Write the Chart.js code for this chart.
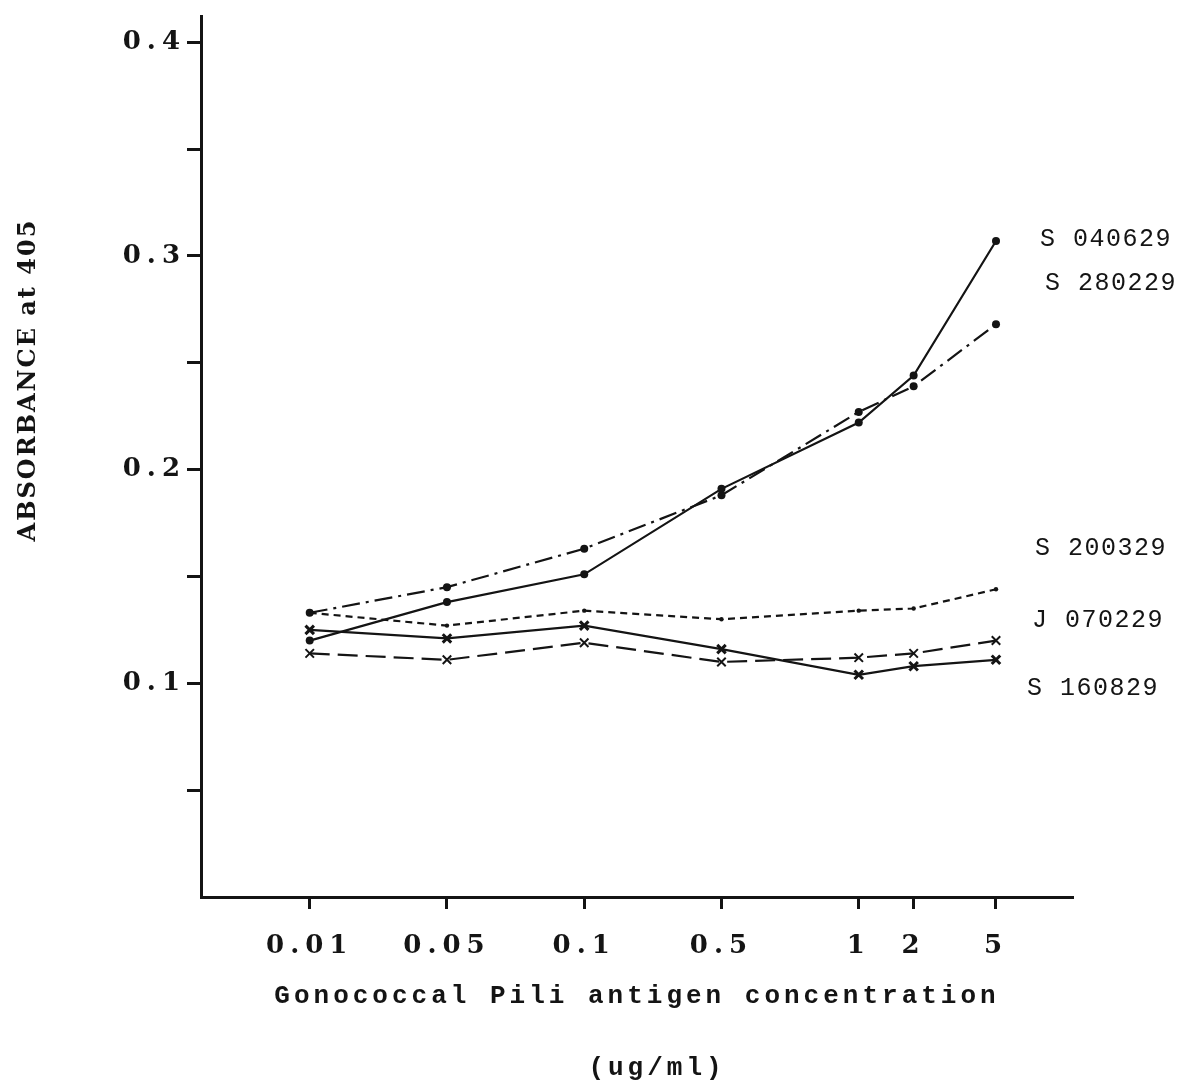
<!DOCTYPE html>
<html>
<head>
<meta charset="utf-8">
<script src="https://cdn.jsdelivr.net/npm/chart.js@4.4.1/dist/chart.umd.min.js"></script>
<style>
  html, body { margin: 0; padding: 0; background: #ffffff; }
  #plot { display: block; }
</style>
</head>
<body>
<canvas id="plot" width="1204" height="1084"></canvas>
<script>
// Antigen concentrations (ug/ml) and where each sits along the drawn x axis
const concentrations = ['0.01', '0.05', '0.1', '0.5', '1', '2', '5'];
const concentrationAxisPos = [0, 1, 2, 3, 4, 4.4, 5];

// Absorbance at 405 nm for each serum
const s040629 = [0.120, 0.138, 0.151, 0.191, 0.222, 0.244, 0.307];
const s280229 = [0.133, 0.145, 0.163, 0.188, 0.227, 0.239, 0.268];
const s200329 = [0.133, 0.127, 0.134, 0.130, 0.134, 0.135, 0.144];
const j070229 = [0.114, 0.111, 0.119, 0.110, 0.112, 0.114, 0.120];
const s160829 = [0.125, 0.121, 0.127, 0.116, 0.104, 0.108, 0.111];

const seriesNames = ['S 040629', 'S 280229', 'S 200329', 'J 070229', 'S 160829'];
const yTickValues = [0.05, 0.1, 0.15, 0.2, 0.25, 0.3, 0.35, 0.4];

const yTitle = 'ABSORBANCE at 405';
const xTitle = 'Gonococcal Pili antigen concentration';
const xUnits = '(ug/ml)';

const INK = '#141414';

// Where the serum names are written at the right (value-axis units for height)
const nameLayout = [
  { x: 1040, y: 0.3078 },
  { x: 1045, y: 0.2872 },
  { x: 1035, y: 0.1630 },
  { x: 1032, y: 0.1294 },
  { x: 1027, y: 0.0976 }
];

function points(values) {
  return values.map((v, i) => ({ x: concentrationAxisPos[i], y: v }));
}

const dotSeries = (name, values, dash, radius) => ({
  label: name,
  data: points(values),
  borderColor: INK,
  borderWidth: 2.2,
  borderDash: dash,
  pointStyle: 'circle',
  pointRadius: radius,
  pointBackgroundColor: INK,
  pointBorderColor: INK,
  pointBorderWidth: 0,
  tension: 0,
  fill: false
});

const crossSeries = (name, values, dash, weight) => ({
  label: name,
  data: points(values),
  borderColor: INK,
  borderWidth: 2.2,
  borderDash: dash,
  pointStyle: 'crossRot',
  pointRadius: 6,
  pointBorderColor: INK,
  pointBorderWidth: weight,
  tension: 0,
  fill: false
});

const spacedText = {
  id: 'spacedText',
  beforeDraw(chart) {
    chart.ctx.letterSpacing = '6px';
  },
  afterDraw(chart) {
    const ctx = chart.ctx;
    const yScale = chart.scales.y;
    ctx.save();
    ctx.fillStyle = INK;
    ctx.textBaseline = 'middle';

    // x axis title and units
    ctx.letterSpacing = '4px';
    ctx.font = 'bold 26px "Liberation Mono"';
    ctx.textAlign = 'center';
    ctx.fillText(xTitle, 637, 996);
    ctx.fillText(xUnits, 657, 1068);

    // y axis title
    ctx.save();
    ctx.letterSpacing = '2px';
    ctx.font = 'bold 24px "DejaVu Serif"';
    ctx.translate(29, 380);
    ctx.rotate(-Math.PI / 2);
    ctx.fillText(yTitle, 0, 0);
    ctx.restore();

    // serum names
    ctx.letterSpacing = '1.5px';
    ctx.font = '25px "Liberation Mono"';
    ctx.textAlign = 'left';
    seriesNames.forEach((name, i) => {
      const p = nameLayout[i];
      ctx.fillText(name, p.x, yScale.getPixelForValue(p.y));
    });
    ctx.restore();
    ctx.letterSpacing = '0px';
  }
};

const tickFont = { family: 'DejaVu Serif', size: 26, weight: 'bold' };

new Chart(document.getElementById('plot'), {
  type: 'line',
  data: {
    datasets: [
      dotSeries(seriesNames[0], s040629, [], 4),
      dotSeries(seriesNames[1], s280229, [18, 6, 3, 6], 4),
      dotSeries(seriesNames[2], s200329, [7, 5], 2.2),
      crossSeries(seriesNames[3], j070229, [20, 8], 2),
      crossSeries(seriesNames[4], s160829, [], 3)
    ]
  },
  options: {
    responsive: false,
    animation: false,
    devicePixelRatio: 1,
    layout: { padding: { left: 0, top: 15, right: 131, bottom: 0 } },
    plugins: {
      legend: { display: false },
      tooltip: { enabled: false },
      title: { display: false }
    },
    scales: {
      x: {
        type: 'linear',
        min: -0.792,
        max: 5.561,
        afterBuildTicks: (s) => { s.ticks = concentrationAxisPos.map(v => ({ value: v })); },
        afterFit: (s) => { s.height = 187; },
        ticks: {
          autoSkip: false,
          maxRotation: 0,
          color: INK,
          font: tickFont,
          padding: 22,
          callback: (v, i) => concentrations[i]
        },
        grid: { drawOnChartArea: false, drawTicks: true, tickLength: 12, tickWidth: 3, tickColor: INK },
        border: { display: true, color: INK, width: 3 },
        title: { display: false }
      },
      y: {
        type: 'linear',
        min: 0,
        max: 0.412,
        afterBuildTicks: (s) => { s.ticks = yTickValues.map(v => ({ value: v })); },
        afterFit: (s) => { s.width = 201; },
        ticks: {
          autoSkip: false,
          color: INK,
          font: tickFont,
          padding: 1,
          callback: (v) => (Math.round(v * 100) % 10 === 0 ? v.toFixed(1) : '')
        },
        grid: { drawOnChartArea: false, drawTicks: true, tickLength: 14, tickWidth: 3, tickColor: INK },
        border: { display: true, color: INK, width: 3 },
        title: { display: false }
      }
    }
  },
  plugins: [spacedText]
});
</script>
</body>
</html>
